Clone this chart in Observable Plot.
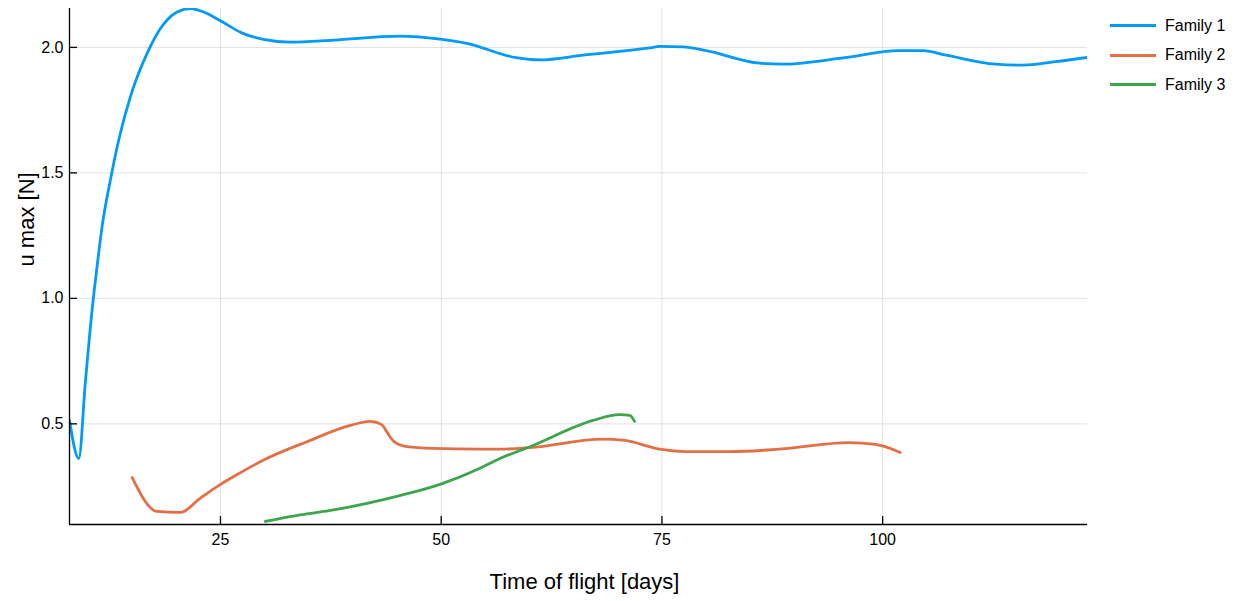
<!DOCTYPE html>
<html>
<head>
<meta charset="utf-8">
<script src="https://cdn.jsdelivr.net/npm/d3@7"></script>
<script src="https://cdn.jsdelivr.net/npm/@observablehq/plot@0.6"></script>
<style>
  body { margin: 0; background: #fff; font-family: "Liberation Sans", Arial, sans-serif; }
  #wrap { position: relative; width: 1236px; height: 601px; }
  #legend { position: absolute; left: 1110px; top: 11px; font-size: 16px; color: #000; }
  .item { display: flex; align-items: center; height: 29.5px; }
  .swatch { width: 46px; height: 3px; margin-right: 9px; }
</style>
</head>
<body>
<div id="wrap"><div id="legend"></div></div>
<script>
// ---- data ----
const seriesNames = ["Family 1", "Family 2", "Family 3"];
const seriesColors = ["#009AFA", "#E36F47", "#3EA44E"];

const family1X = [7.9, 8.95, 9.7, 10.47, 11.03, 11.6, 12.54, 13.48, 14.8, 16.69, 18.2, 20.08, 21.6, 23.09, 25.0, 27.4, 30.0, 32.9, 37.8, 45.3, 49.87, 52.9, 58.5, 61.2, 66.08, 73.6, 74.76, 77.4, 80.0, 86.07, 88.7, 95.1, 101.9, 104.6, 107.2, 112.8, 115.9, 119.6, 123.2];
const family1Y = [0.514, 0.362, 0.667, 0.958, 1.129, 1.288, 1.473, 1.632, 1.804, 1.976, 2.075, 2.141, 2.155, 2.141, 2.106, 2.058, 2.031, 2.021, 2.029, 2.045, 2.033, 2.016, 1.959, 1.950, 1.969, 1.998, 2.004, 2.002, 1.987, 1.937, 1.933, 1.956, 1.987, 1.987, 1.969, 1.933, 1.929, 1.943, 1.960];

const family2X = [15.0, 17.82, 20.46, 22.72, 25.0, 26.5, 29.88, 34.8, 39.7, 41.95, 43.27, 43.84, 44.6, 46.1, 49.1, 54.4, 56.66, 60.05, 68.3, 70.6, 74.76, 77.77, 82.7, 88.3, 96.2, 99.2, 102.0];
const family2Y = [0.286, 0.151, 0.147, 0.204, 0.259, 0.290, 0.356, 0.429, 0.494, 0.510, 0.497, 0.468, 0.431, 0.409, 0.402, 0.399, 0.399, 0.405, 0.439, 0.435, 0.399, 0.389, 0.389, 0.399, 0.425, 0.418, 0.386];

const family3X = [30.07, 34.0, 37.8, 45.3, 49.87, 54.4, 56.66, 60.05, 67.2, 70.2, 71.36, 71.9];
const family3Y = [0.111, 0.137, 0.157, 0.214, 0.259, 0.323, 0.362, 0.409, 0.514, 0.537, 0.534, 0.510];

const xTicks = [25, 50, 75, 100];
const yTicks = [0.5, 1.0, 1.5, 2.0];
const xDomain = [7.9, 123.2];
const yDomain = [0.099, 2.155];
const xLabel = "Time of flight [days]";
const yLabel = "u max [N]";

// ---- build table ----
const allX = [family1X, family2X, family3X];
const allY = [family1Y, family2Y, family3Y];
const rows = [];
seriesNames.forEach((name, s) => {
  allX[s].forEach((x, i) => rows.push({series: name, x, y: allY[s][i]}));
});

const W = 1236, H = 601;
const mL = 69, mR = 149, mT = 8, mB = 77;
const plotW = W - mL - mR, plotH = H - mT - mB;

const chart = Plot.plot({
  width: W,
  height: H,
  marginLeft: mL,
  marginRight: mR,
  marginTop: mT,
  marginBottom: mB,
  style: { fontFamily: "Liberation Sans, Arial, sans-serif", fontSize: "16px", background: "#fff", color: "#000" },
  x: { domain: xDomain, axis: null },
  y: { domain: yDomain, axis: null },
  color: { domain: seriesNames, range: seriesColors },
  marks: [
    Plot.gridX(xTicks, { stroke: "#000", strokeOpacity: 0.12, strokeWidth: 1 }),
    Plot.gridY(yTicks, { stroke: "#000", strokeOpacity: 0.12, strokeWidth: 1 }),
    Plot.line(rows, { x: "x", y: "y", z: "series", stroke: "series", strokeWidth: 2.8, curve: "monotone-x", clip: true }),
    Plot.ruleX([xDomain[0]], { stroke: "#000", strokeWidth: 1.3 }),
    Plot.ruleY([yDomain[0]], { stroke: "#000", strokeWidth: 1.3 }),
    Plot.tickX(xTicks, { x: d => d, stroke: "#000", strokeWidth: 1.3, insetTop: plotH - 8 }),
    Plot.tickY(yTicks, { y: d => d, stroke: "#000", strokeWidth: 1.3, insetRight: plotW - 8 }),
    Plot.axisX(xTicks, { tickSize: 0, tickPadding: 9, fontSize: "16px", label: null, tickFormat: d => String(d), fill: "#000" }),
    Plot.axisY(yTicks, { tickSize: 0, tickPadding: 6, fontSize: "16px", label: null, tickFormat: d => d.toFixed(1), fill: "#000" }),
    Plot.text([xLabel], { frameAnchor: "bottom", dy: 64, dx: 6, fontSize: 22, fill: "#000" }),
    Plot.text([yLabel], { frameAnchor: "left", dx: -43, rotate: -90, fontSize: 22, fill: "#000" })
  ]
});

const wrap = document.getElementById("wrap");
wrap.insertBefore(chart, wrap.firstChild);

const legend = document.getElementById("legend");
seriesNames.forEach((name, i) => {
  const item = document.createElement("div");
  item.className = "item";
  const sw = document.createElement("div");
  sw.className = "swatch";
  sw.style.background = seriesColors[i];
  const label = document.createElement("span");
  label.textContent = name;
  item.appendChild(sw);
  item.appendChild(label);
  legend.appendChild(item);
});
</script>
</body>
</html>
